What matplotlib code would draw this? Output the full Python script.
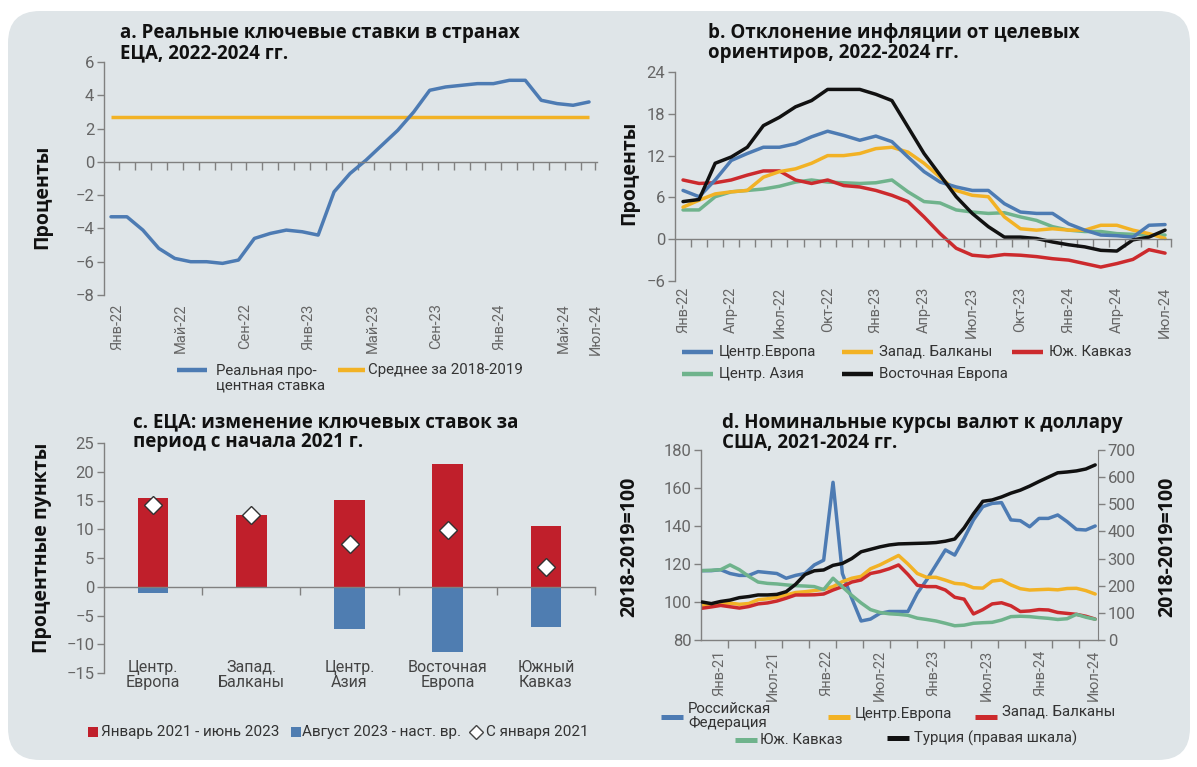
import numpy as np
import matplotlib
matplotlib.use("Agg")
import matplotlib.pyplot as plt
from matplotlib.patches import FancyBboxPatch, Rectangle
from matplotlib.lines import Line2D
from matplotlib.transforms import IdentityTransform

plt.rcParams['font.family'] = ['Roboto', 'DejaVu Sans']
plt.rcParams['axes.unicode_minus'] = True
TITLE_FONT = ['Open Sans', 'DejaVu Sans']

# ------------------------------------------------------------------ data
# a. real key rates, monthly Jan-22 .. Jul-24
a_tick_labels = ['Янв-22', 'Май-22', 'Сен-22', 'Янв-23', 'Май-23', 'Сен-23', 'Янв-24', 'Май-24', 'Июл-24']
a_tick_months = [0, 4, 8, 12, 16, 20, 24, 28, 30]
a_real_rate = [-3.3, -3.3, -4.1, -5.2, -5.8, -6.0, -6.0, -6.1, -5.9, -4.6,
               -4.3, -4.1, -4.2, -4.4, -1.8, -0.7, 0.1, 1.0, 1.9, 3.0,
               4.3, 4.5, 4.6, 4.7, 4.7, 4.9, 4.9, 3.7, 3.5, 3.4, 3.6]
a_avg_2018_2019 = 2.7
a_series_names = ['Реальная про-\nцентная ставка', 'Среднее за 2018-2019']

# b. inflation deviation from targets, monthly Jan-22 .. Jul-24
b_tick_labels = ['Янв-22', 'Апр-22', 'Июл-22', 'Окт-22', 'Янв-23', 'Апр-23',
                 'Июл-23', 'Окт-23', 'Янв-24', 'Апр-24', 'Июл-24']
b_tick_months = [0, 3, 6, 9, 12, 15, 18, 21, 24, 27, 30]
b_central_europe = [7.0, 6.1, 8.5, 11.3, 12.3, 13.2, 13.2, 13.7, 14.7, 15.5,
                    14.9, 14.2, 14.8, 14.0, 11.8, 9.7, 8.2, 7.5, 7.0, 7.0,
                    5.1, 3.9, 3.7, 3.7, 2.2, 1.3, 0.6, 0.5, 0.3, 2.0, 2.1]
b_w_balkans = [4.6, 5.6, 6.5, 6.8, 7.0, 8.9, 9.7, 10.1, 10.9, 12.0,
               12.0, 12.3, 13.0, 13.2, 12.5, 10.9, 8.9, 7.0, 6.3, 6.1,
               3.2, 1.5, 1.3, 1.5, 1.3, 1.3, 2.0, 2.0, 1.3, 0.8, 0.1]
b_s_caucasus = [8.5, 8.0, 8.1, 8.5, 9.2, 9.8, 9.8, 8.5, 8.0, 8.5,
                7.7, 7.5, 7.0, 6.3, 5.4, 3.2, 0.8, -1.3, -2.3, -2.5,
                -2.2, -2.3, -2.5, -2.8, -3.0, -3.5, -4.0, -3.5, -2.9, -1.5, -2.0]
b_central_asia = [4.2, 4.2, 6.1, 6.8, 7.0, 7.2, 7.6, 8.2, 8.5, 8.2,
                  8.1, 8.0, 8.1, 8.5, 6.8, 5.4, 5.2, 4.2, 3.9, 3.7,
                  3.8, 3.2, 2.7, 1.8, 1.3, 1.1, 1.1, 0.8, 0.7, 0.6, 0.6]
b_eastern_europe = [5.4, 5.7, 10.9, 11.8, 13.2, 16.3, 17.5, 19.0, 19.9, 21.5,
                    21.5, 21.5, 20.8, 19.9, 16.1, 12.3, 9.2, 6.1, 3.7, 1.8,
                    0.3, 0.3, 0.1, -0.4, -0.8, -1.1, -1.6, -1.7, -0.1, 0.3, 1.3]
b_series_names = ['Центр.Европа', 'Запад. Балканы', 'Юж. Кавказ', 'Центр. Азия', 'Восточная Европа']

# c. change of key rates since early 2021
c_regions = ['Центр.\nЕвропа', 'Запад.\nБалканы', 'Центр.\nАзия', 'Восточная\nЕвропа', 'Южный\nКавказ']
c_jan21_jun23 = [15.4, 12.5, 15.1, 21.3, 10.6]
c_aug23_now = [-1.0, 0.0, -7.4, -11.4, -7.0]
c_since_jan21 = [14.3, 12.4, 7.5, 9.8, 3.5]
c_series_names = ['Январь 2021 - июнь 2023', 'Август 2023 - наст. вр.', 'С января 2021']

# d. nominal exchange rates vs USD, monthly Jan-21 .. Jul-24 (2018-2019=100)
d_tick_labels = ['Янв-21', 'Июл-21', 'Янв-22', 'Июл-22', 'Янв-23', 'Июл-23', 'Янв-24', 'Июл-24']
d_russia = [116.5, 116.5, 117, 115, 114, 114, 116, 115.5, 115, 112.5,
            114, 115, 119.5, 122, 163, 115, 102, 90, 91, 94,
            95, 95, 95, 104.6, 111.6, 119.5, 127.4, 124.7, 133.5, 143.2,
            150.2, 151.9, 152.3, 143.2, 142.8, 139.6, 144, 144, 145.8, 142.3,
            138.2, 137.9, 140]
d_central_europe = [98.2, 98.8, 99.3, 99.4, 98.8, 99.2, 101.2, 101.7, 102.5, 103.7,
                    105, 105.4, 106, 106.7, 108.1, 110.7, 112.5, 113.5, 117.5, 119.5,
                    122, 124.5, 120, 115, 113, 113, 111.5, 109.8, 109.4, 107.5,
                    107.3, 111, 111.6, 109, 107, 106.3, 106.5, 106.7, 106.4, 107.1,
                    107.2, 106, 104.2]
d_w_balkans = [96.7, 97.4, 98.2, 97.5, 96.8, 97.6, 99, 99.5, 100.5, 102,
               103.7, 103.7, 103.8, 104.2, 106.3, 108.1, 110.5, 111.6, 115, 116,
               117.5, 119.5, 114.5, 108.8, 108.1, 108.1, 106.3, 102.5, 101.5, 93.7,
               96, 99, 99.6, 98, 95, 95.3, 96, 95.8, 94.5, 94,
               93.5, 92.5, 91]
d_s_caucasus = [116.5, 116.7, 117, 119.5, 117, 113.5, 110.5, 109.8, 109.5, 109,
                108.6, 108.4, 108.1, 106.5, 112.5, 108, 103.5, 99.5, 96, 94.5,
                93.8, 93.5, 93, 91.5, 90.8, 90, 88.8, 87.5, 87.8, 88.8,
                89.1, 89.3, 90.5, 92.3, 92.5, 92.3, 91.8, 91.4, 90.8, 91.2,
                93.5, 92, 90.9]
d_turkey = [140, 134, 142, 147, 156, 160, 166, 166, 168, 178,
            205, 241, 255, 258, 275, 282, 300, 325, 334, 343,
            350, 354, 355, 356, 357, 359, 364, 372, 413, 465,
            511, 516, 527, 541, 552, 567, 584, 600, 616, 619,
            623, 630, 645]
d_series_names = ['Российская\nФедерация', 'Центр.Европа', 'Запад. Балканы', 'Юж. Кавказ', 'Турция (правая шкала)']

# ------------------------------------------------------------------ style
BLUE = '#4d7bb3'
ORANGE = '#f2b225'
RED = '#cc2a2d'
GREEN = '#6fb38c'
BLACK = '#111111'
BAR_RED = '#c01f2b'
BAR_BLUE = '#4f7db1'
AX_GRAY = '#808080'
TICK_TXT = '#666666'
TXT = '#333333'
BG = '#dfe5e8'
LW = 2.5
DATE_SIZE = 10.5
YTICK_SIZE = 12

W, H = 1197, 767
fig = plt.figure(figsize=(W / 100, H / 100), dpi=100)
fig.patch.set_facecolor('white')
fig.add_artist(FancyBboxPatch((8, H - 760), 1182, 749,
                              boxstyle='round,pad=0,rounding_size=32',
                              transform=IdentityTransform(), facecolor=BG,
                              edgecolor='none', zorder=-10))


def ax_px(left, top, right, bottom):
    a = fig.add_axes([left / W, 1 - bottom / H, (right - left) / W, (bottom - top) / H])
    a.set_facecolor('none')
    return a


def base_style(ax):
    for s in ['top', 'right']:
        ax.spines[s].set_visible(False)
    for s in ['left', 'bottom']:
        ax.spines[s].set_color(AX_GRAY)
        ax.spines[s].set_linewidth(1.0)
    ax.tick_params(axis='y', direction='out', length=5, width=1, color=AX_GRAY,
                   labelcolor=TICK_TXT, labelsize=YTICK_SIZE, pad=2)


def zero_axis(ax, tick_pos, label_pos=None, labels=None, pad=5):
    ax.spines['bottom'].set_position(('data', 0))
    ax.set_xticks(tick_pos)
    ax.set_xticklabels([])
    ax.tick_params(axis='x', direction='out', length=6, width=1, color=AX_GRAY)
    if labels is not None:
        sec = ax.secondary_xaxis(0.0)
        sec.set_xticks(label_pos, labels, rotation=90)
        sec.tick_params(axis='x', length=0, labelsize=DATE_SIZE, labelcolor=TICK_TXT, pad=pad)
        for s in sec.spines.values():
            s.set_visible(False)


def title(x, y_first, s, step=20):
    # one text per line, line centres `step` px apart
    for k, line in enumerate(s.split('\n')):
        fig.text(x / W, 1 - (y_first + k * step) / H, line, ha='left', va='center',
                 fontsize=13.5, fontweight='bold', family=TITLE_FONT, color='#111111')


def ylabel(x, y, s):
    fig.text(x / W, 1 - y / H, s, ha='center', va='center', rotation=90,
             fontsize=14, fontweight='bold', family=TITLE_FONT, color='#111111')


def leg_line(x0, x1, y, color, lw=3.2):
    fig.add_artist(Line2D([x0, x1], [H - y, H - y], color=color, lw=lw,
                          solid_capstyle='butt', transform=IdentityTransform()))


def leg_text(x, y, s, size=10.8):
    fig.text(x, H - y, s, ha='left', va='center', fontsize=size, color=TXT,
             linespacing=1.0, transform=IdentityTransform())


# ------------------------------------------------------------------ panel a
ax = ax_px(104, 62, 597, 295)
base_style(ax)
xa = np.arange(len(a_real_rate))
ax.plot(xa, np.full(len(xa), a_avg_2018_2019), color=ORANGE, lw=LW, solid_capstyle='butt')
ax.plot(xa, a_real_rate, color=BLUE, lw=LW, solid_capstyle='round')
ax.set_ylim(-8, 6)
ax.set_yticks(np.arange(-8, 7, 2))
ax.set_xlim(-0.44, 30.5)
zero_axis(ax, list(np.arange(30) + 0.5) + [30.4],
          [m + 0.4 for m in a_tick_months], a_tick_labels, pad=6)
title(120, 33, 'a. Реальные ключевые ставки в странах\nЕЦА, 2022-2024 гг.')
ylabel(42, 197, 'Проценты')
leg_line(177, 207, 370, BLUE)
leg_text(216, 378, a_series_names[0])
leg_line(338, 365, 370, ORANGE)
leg_text(368, 370, a_series_names[1])

# ------------------------------------------------------------------ panel b
ax = ax_px(675, 72, 1171, 281)
base_style(ax)
xb = np.arange(len(b_central_europe))
b_series = [b_central_europe, b_w_balkans, b_s_caucasus, b_central_asia, b_eastern_europe]
b_colors = [BLUE, ORANGE, RED, GREEN, BLACK]
for order in [3, 2, 1, 0, 4]:
    ax.plot(xb, b_series[order], color=b_colors[order], lw=LW, solid_capstyle='round')
ax.set_ylim(-6, 24)
ax.set_yticks(np.arange(-6, 25, 6))
ax.set_xlim(-0.5, 30.37)
zero_axis(ax, list(np.arange(30) + 0.5) + [30.37], b_tick_months, b_tick_labels, pad=4)
title(708, 33, 'b. Отклонение инфляции от целевых\nориентиров, 2022-2024 гг.')
ylabel(629, 173, 'Проценты')
b_leg_pos = [(682, 352), (842, 352), (1012, 352), (682, 374), (842, 374)]
for (lx, ly), name, col in zip(b_leg_pos, b_series_names, b_colors):
    leg_line(lx, lx + 31, ly, col)
    leg_text(lx + 37, ly, name)

# ------------------------------------------------------------------ panel c
ax = ax_px(104, 443, 595, 673)
base_style(ax)
xc = np.arange(len(c_regions))
ax.bar(xc, c_jan21_jun23, width=0.31, color=BAR_RED, zorder=2)
ax.bar(xc, c_aug23_now, width=0.31, color=BAR_BLUE, zorder=2)
ax.plot(xc, c_since_jan21, linestyle='none', marker='D', markersize=9,
        markerfacecolor='white', markeredgecolor='#333333', markeredgewidth=1.0, zorder=4)
ax.set_ylim(-15, 25)
ax.set_yticks(np.arange(-15, 26, 5))
ax.set_xlim(-0.5, 4.5)
zero_axis(ax, np.arange(len(c_regions)) + 0.5)
ax.spines['bottom'].set_zorder(3)
for i, name in enumerate(c_regions):
    ax.text(i, -12.7, name, ha='center', va='top', fontsize=11.5, color='#444444', linespacing=1.05)
title(133, 422, 'с. ЕЦА: изменение ключевых ставок за\nпериод с начала 2021 г.')
ylabel(42, 548, 'Процентные пункты')
fig.add_artist(Rectangle((88, H - 737), 10, 10, facecolor=BAR_RED, edgecolor='none',
                         transform=IdentityTransform()))
leg_text(101, 732, c_series_names[0], size=11)
fig.add_artist(Rectangle((291, H - 737), 10, 10, facecolor=BAR_BLUE, edgecolor='none',
                         transform=IdentityTransform()))
leg_text(302, 732, c_series_names[1], size=11)
fig.add_artist(Line2D([476], [H - 732], marker='D', markersize=7, markerfacecolor='white',
                      markeredgecolor='#444444', markeredgewidth=1.0, linestyle='none',
                      transform=IdentityTransform()))
leg_text(486, 732, c_series_names[2], size=11)

# ------------------------------------------------------------------ panel d
ax = ax_px(701, 450, 1098, 640)
base_style(ax)
ax.spines['bottom'].set_position(('axes', 0))
xd = np.arange(len(d_russia))
d_left = [d_russia, d_central_europe, d_w_balkans, d_s_caucasus]
d_colors = [BLUE, ORANGE, RED, GREEN]
for order in [0, 1, 2, 3]:
    ax.plot(xd, d_left[order], color=d_colors[order], lw=LW, solid_capstyle='round', zorder=2)
ax.set_ylim(80, 180)
ax.set_yticks(np.arange(80, 181, 20))
ax.set_xlim(-0.1, 42.3)
ax.set_xticks(np.linspace(1.9, 41.8, len(d_tick_labels)), d_tick_labels, rotation=90)
ax.set_xticks(np.linspace(2.8, 40.3, 14), minor=True)
ax.tick_params(axis='x', which='major', length=0, labelsize=DATE_SIZE, labelcolor=TICK_TXT, pad=7)
ax.tick_params(axis='x', which='minor', direction='out', length=6, width=1, color=AX_GRAY)
axr = ax.twinx()
axr.set_facecolor('none')
for s in ['top', 'left', 'bottom']:
    axr.spines[s].set_visible(False)
axr.spines['right'].set_color(AX_GRAY)
axr.plot(xd, d_turkey, color=BLACK, lw=LW, solid_capstyle='round', zorder=3)
axr.set_ylim(0, 700)
axr.set_yticks(np.arange(0, 701, 100))
axr.tick_params(axis='y', direction='out', length=5, width=1, color=AX_GRAY,
                labelcolor=TICK_TXT, labelsize=YTICK_SIZE, pad=2)
axr.set_xlim(-0.1, 42.3)
title(722, 423, 'd. Номинальные курсы валют к доллару\nСША, 2021-2024 гг.')
ylabel(629, 547, '2018-2019=100')
ylabel(1167, 547, '2018-2019=100')
d_leg = [(661, 717, 688, 716), (828, 717, 855, 714), (975, 717, 1002, 712),
         (735, 740, 760, 740), (887, 738, 914, 738)]
for (lx, ly, tx, ty), name, col in zip(d_leg, d_series_names, d_colors + [BLACK]):
    leg_line(lx, lx + 22, ly, col, lw=3.6)
    leg_text(tx, ty, name)

fig.savefig('out.png', dpi=100, facecolor='white')
